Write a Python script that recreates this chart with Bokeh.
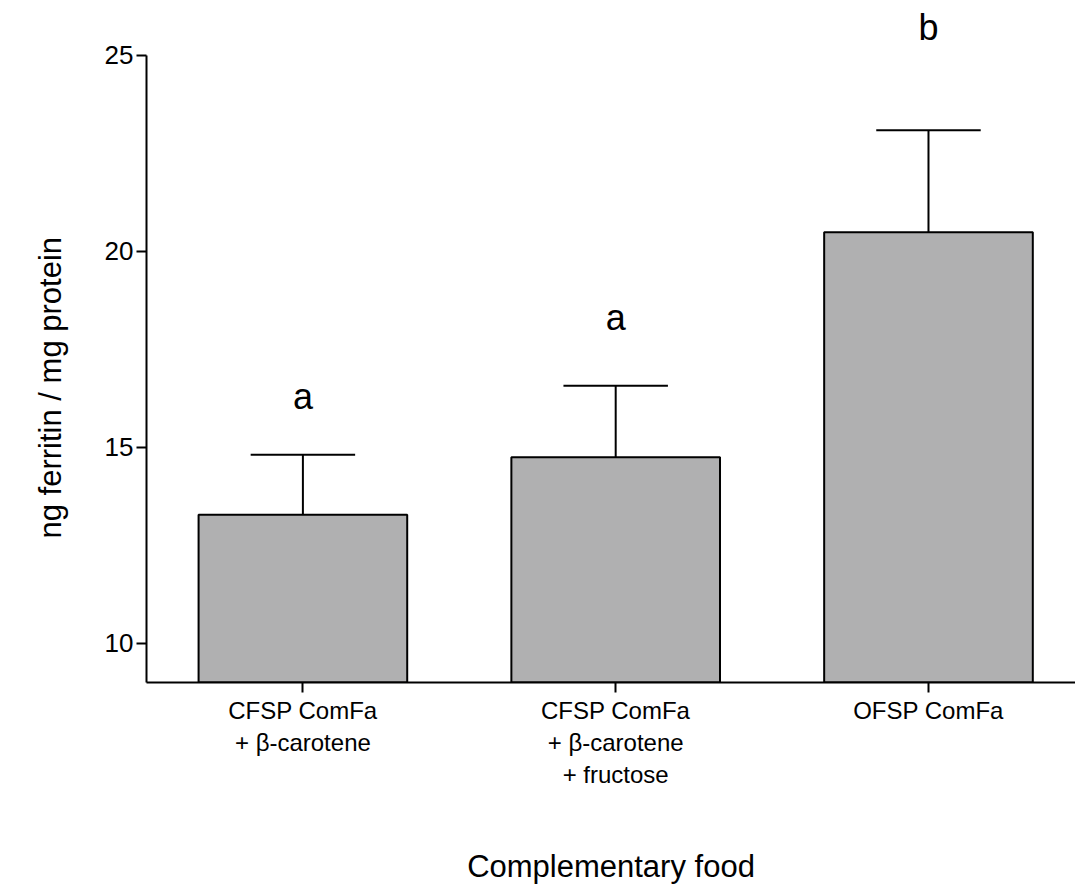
from bokeh.plotting import figure
from bokeh.models import Range1d, FixedTicker, ColumnDataSource, Title
from bokeh.core.properties import value
from bokeh.embed import file_html
from bokeh.resources import INLINE

# Ferritin per protein for each complementary food (mean and SD)
categories = [
    "CFSP ComFa\n+ β-carotene",
    "CFSP ComFa\n+ β-carotene\n+ fructose",
    "OFSP ComFa",
]
means = [13.28, 14.75, 20.49]
sds = [1.53, 1.82, 2.60]
letters = ["a", "a", "b"]
letter_y = [16.3, 18.3, 25.7]
y_ticks = [10, 15, 20, 25]

FONT = "Arial"

xs = [i + 0.5 for i in range(len(categories))]
tops = [m + s for m, s in zip(means, sds)]

src = ColumnDataSource(dict(
    x=xs, mean=means, top=tops,
    cap_l=[x - 0.167 for x in xs], cap_r=[x + 0.167 for x in xs],
    letter=letters, ly=letter_y,
))

p = figure(
    width=1075, height=887,
    x_range=Range1d(0, 2.97), y_range=Range1d(9, 26.4),
    output_backend="svg", toolbar_location=None,
    min_border_left=144, min_border_right=0, min_border_top=0, min_border_bottom=205,
)
p.outline_line_color = None
p.grid.visible = False
p.background_fill_color = "white"

# bars
p.vbar(x="x", width=0.667, bottom=9, top="mean", source=src,
       fill_color="#b0b0b1", line_color="black", line_width=2)

# upper error bars
p.segment(x0="x", y0="mean", x1="x", y1="top", source=src,
          line_color="black", line_width=2)
p.segment(x0="cap_l", y0="top", x1="cap_r", y1="top", source=src,
          line_color="black", line_width=2)

# significance letters
p.text(x="x", y="ly", text="letter", source=src,
       text_font=value(FONT), text_font_size="36px",
       text_align="center", text_baseline="alphabetic", text_color="black")


def style_axis(ax, tick_size):
    ax.major_label_text_font = FONT
    ax.major_label_text_font_size = tick_size
    ax.major_label_text_color = "black"
    ax.major_tick_out = 10
    ax.major_tick_in = 0
    ax.minor_tick_out = 0
    ax.minor_tick_in = 0
    ax.axis_line_width = 2
    ax.major_tick_line_width = 2
    ax.axis_line_color = "black"
    ax.major_tick_line_color = "black"


# y axis: the line stops at 25 while the frame continues above it
ya = p.yaxis[0]
ya.ticker = FixedTicker(ticks=y_ticks)
ya.bounds = (9, 25)
style_axis(ya, "26px")
ya.major_label_standoff = 3

# y title, starting from the bottom of the frame and shifted up
p.add_layout(Title(
    text="ng ferritin / mg protein", align="left", offset=144, standoff=64,
    vertical_align="top",
    text_font=FONT, text_font_size="31px", text_font_style="normal",
    text_color="black",
), "left")

# x axis
xa = p.xaxis[0]
xa.ticker = FixedTicker(ticks=xs)
xa.major_label_overrides = {x: c for x, c in zip(xs, categories)}
style_axis(xa, "24px")
xa.major_label_standoff = 4
xa.axis_label = "Complementary food"
xa.axis_label_text_font = FONT
xa.axis_label_text_font_size = "31px"
xa.axis_label_text_font_style = "normal"
xa.axis_label_text_color = "black"
xa.axis_label_text_line_height = 1.0
xa.axis_label_standoff = 58

open("out.html", "w").write(file_html(p, INLINE))
